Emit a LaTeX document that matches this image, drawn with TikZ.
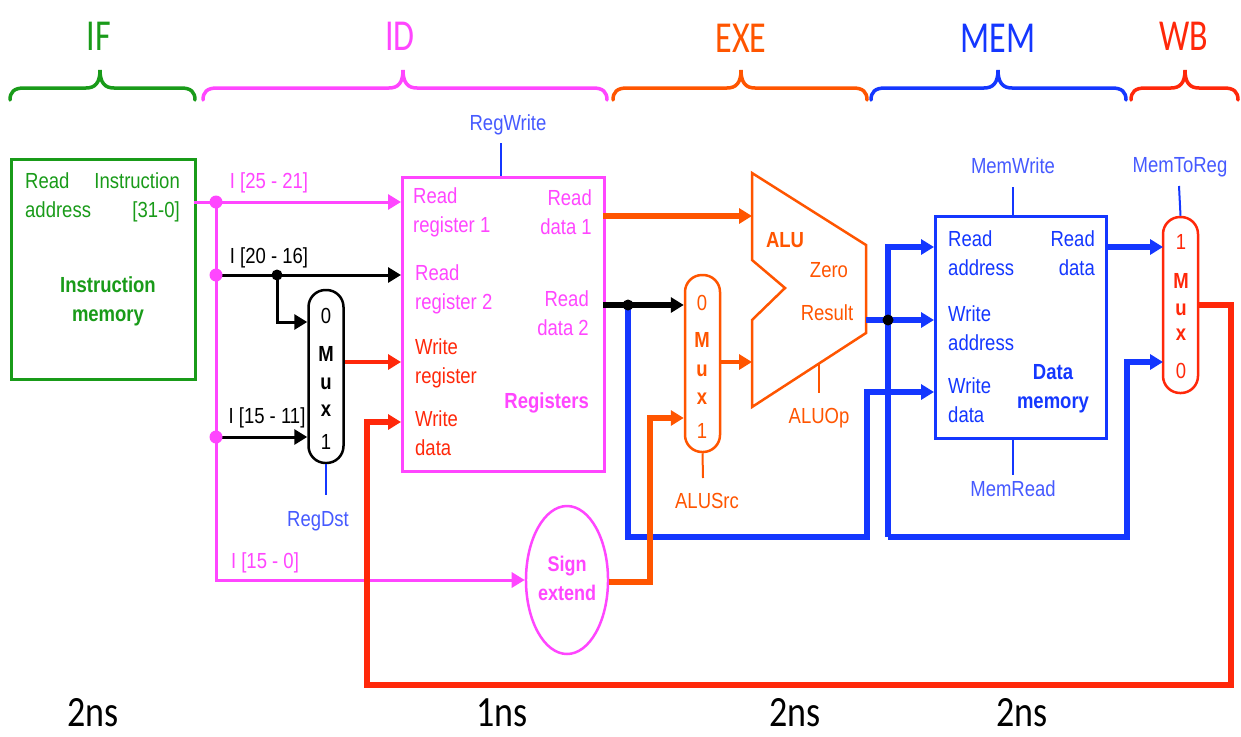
\documentclass[tikz,border=0pt]{standalone}
\usepackage{fontspec}
\setmainfont{Liberation Sans}
\newfontfamily\stagefont{Carlito}
\usepackage{graphicx}
\usetikzlibrary{arrows.meta,shapes.geometric}
\definecolor{cgreen}{RGB}{25,155,25}
\definecolor{cmag}{RGB}{255,70,255}
\definecolor{corange}{RGB}{255,85,0}
\definecolor{cred}{RGB}{255,40,10}
\definecolor{cblue}{RGB}{20,55,255}
\definecolor{clblue}{RGB}{70,90,255}
\newcommand\vsL[1]{\scalebox{1}[1.18]{\begin{tabular}{@{}l@{}}#1\end{tabular}}}
\newcommand\vsR[1]{\scalebox{1}[1.18]{\begin{tabular}{@{}r@{}}#1\end{tabular}}}
\newcommand\vsC[1]{\scalebox{1}[1.18]{\begin{tabular}{@{}c@{}}#1\end{tabular}}}
\newcommand\stagebrace[4]{\draw[bracestyle,#4] (#1,100) .. controls (#1,92) and ({#1+4},88) .. ({#1+14},88) -- ({#2-14},88) .. controls ({#2-5},88) and (#2,83) .. (#2,70) .. controls (#2,83) and ({#2+5},88) .. ({#2+14},88) -- ({#3-14},88) .. controls ({#3-4},88) and (#3,92) .. (#3,100);}
\begin{document}
\begin{tikzpicture}[x=1pt,y=-1pt,
  lbl/.style={inner sep=0pt, font=\fontsize{18.5}{25.4}\selectfont},
  bl/.style={inner sep=0pt, font=\fontsize{18.5}{25.4}\selectfont\bfseries},
  stg/.style={inner sep=0pt, font=\stagefont\fontsize{34}{34}\selectfont},
  tim/.style={inner sep=0pt, font=\stagefont\fontsize{36}{36}\selectfont, black},
  bracestyle/.style={line width=3.5pt, line cap=round},
  arr/.style={-{Triangle[length=13pt,width=15pt]}},
  thinln/.style={line width=3pt},
  midln/.style={line width=3.5pt},
  fatln/.style={line width=5.5pt},
  ctrl/.style={line width=2pt},
  boxst/.style={draw, line width=2.5pt, inner sep=0pt, anchor=north west},
  muxst/.style={draw, line width=2.5pt, inner sep=0pt, rounded corners=17pt, minimum width=35pt},
  dotst/.style={circle, fill, inner sep=0pt, minimum size=13pt}
]
\fill[white] (0,0) rectangle (1241,736);
\useasboundingbox (0,0) rectangle (1241,736);

% stage labels and braces
\node[stg, cgreen] (lif) at (99,36) {\scalebox{1}[1.3]{IF}};
\node[stg, cmag] (lid) at (400,36) {\scalebox{1}[1.3]{ID}};
\node[stg, corange] (lexe) at (741,38) {\scalebox{1}[1.3]{EXE}};
\node[stg, cblue] (lmem) at (998,38) {\scalebox{1}[1.3]{MEM}};
\node[stg, cred] (lwb) at (1184,36) {\scalebox{1}[1.3]{WB}};
\stagebrace{10}{100}{195}{cgreen}
\stagebrace{203}{403}{607}{cmag}
\stagebrace{613}{741}{867}{corange}
\stagebrace{871}{998}{1126}{cblue}
\stagebrace{1131}{1185}{1238}{cred}

% times
\node[tim] (t1) at (93,713) {\scalebox{1}[1.2]{2ns}};
\node[tim] (t2) at (502,713) {\scalebox{1}[1.2]{1ns}};
\node[tim] (t3) at (795,713) {\scalebox{1}[1.2]{2ns}};
\node[tim] (t4) at (1022,713) {\scalebox{1}[1.2]{2ns}};

% instruction memory
\node[boxst, draw=cgreen, minimum width=184pt, minimum height=220pt] (im) at (10,158) {};
\node[lbl, cgreen, anchor=west] (imra) at (25,183) {\vsL{Read}};
\node[lbl, cgreen, anchor=east] (imin) at (180,183) {\vsL{Instruction}};
\node[lbl, cgreen, anchor=west] (imad) at (25,212) {\vsL{address}};
\node[lbl, cgreen, anchor=east] (imbits) at (180,212) {\vsL{[31-0]}};
\node[bl, cgreen] (imname) at (108,301) {\vsC{Instruction\\memory}};

% registers
\node[boxst, draw=cmag, minimum width=202pt, minimum height=294pt] (regs) at (401,176) {};
\node[lbl, cmag, anchor=west] (rr1t) at (413,212) {\vsL{Read\\register 1}};
\node[lbl, cmag, anchor=west] (rr2t) at (415,289) {\vsL{Read\\register 2}};
\node[lbl, cred, anchor=west] (wrt) at (415,363) {\vsL{Write\\register}};
\node[lbl, cred, anchor=west] (wdt) at (415,435) {\vsL{Write\\data}};
\node[lbl, cmag, anchor=east] (rd1t) at (592,214) {\vsR{Read\\data 1}};
\node[lbl, cmag, anchor=east] (rd2t) at (589,315) {\vsR{Read\\data 2}};
\node[bl, cmag, anchor=east] (regname) at (589,402) {\vsR{Registers}};
\node[lbl, clblue] (regwrite) at (508,125) {\vsC{RegWrite}};
\draw[ctrl, cblue] (501,143) coordinate (rwtop) -- (501,176) coordinate (rwbot);

% mux 1 (RegDst)
\node[muxst, draw=black, minimum height=173pt] (mx1) at (326,376.5) {};
\node[lbl] (mx1a) at (326,318) {\vsC{0}};
\node[bl] (mx1b) at (326,355) {\vsC{M}};
\node[bl] (mx1c) at (326,383) {\vsC{u}};
\node[bl] (mx1d) at (326,410) {\vsC{x}};
\node[lbl] (mx1e) at (326,443) {\vsC{1}};
\node[lbl, clblue] (regdst) at (318,520) {\vsC{RegDst}};
\draw[ctrl, cblue] (mx1.south) -- (326,495) coordinate (rdend);

% sign extend
\node[ellipse, draw=cmag, line width=2.5pt, minimum width=74pt, minimum height=148pt, inner sep=0pt, font=\fontsize{18}{25}\selectfont\bfseries, text=cmag] (sx) at (567,580) {\vsC{Sign\\extend}};

% mux 2 (ALUSrc)
\node[muxst, draw=corange, minimum height=177pt] (mx2) at (702.5,363.5) {};
\node[lbl, corange] (mx2a) at (702,305) {\vsC{0}};
\node[bl, corange] (mx2b) at (702,342) {\vsC{M}};
\node[bl, corange] (mx2c) at (702,370) {\vsC{u}};
\node[bl, corange] (mx2d) at (702,398) {\vsC{x}};
\node[lbl, corange] (mx2e) at (702,432) {\vsC{1}};
\node[lbl, corange] (alusrc) at (707,502) {\vsC{ALUSrc}};
\draw[ctrl, corange] (mx2.south) -- (703,478) coordinate (asend);

% ALU
\draw[corange, line width=2.5pt] (752,173) coordinate (aluTL) -- (866,245) -- (866,333) -- (752,407) -- (752,320) -- (785,288) -- (752,260) -- cycle;
\node[bl, corange] (alut) at (785,242) {\vsC{ALU}};
\node[lbl, corange] (zerot) at (829,272) {\vsC{Zero}};
\node[lbl, corange] (rest) at (827,315) {\vsC{Result}};
\node[lbl, corange] (aluop) at (819,417) {\vsC{ALUOp}};
\draw[ctrl, corange] (819,364) coordinate (aotop) -- (819,393) coordinate (aobot);

% data memory
\node[boxst, draw=cblue, minimum width=171pt, minimum height=222pt] (dm) at (934,215) {};
\node[lbl, cblue, anchor=west] (dmra) at (948,255) {\vsL{Read\\address}};
\node[lbl, cblue, anchor=west] (dmwa) at (948,330) {\vsL{Write\\address}};
\node[lbl, cblue, anchor=west] (dmwd) at (948,402) {\vsL{Write\\data}};
\node[lbl, cblue, anchor=east] (dmrd) at (1095,255) {\vsR{Read\\data}};
\node[bl, cblue] (dmname) at (1053,388) {\vsC{Data\\memory}};
\node[lbl, clblue] (memwrite) at (1013,168) {\vsC{MemWrite}};
\draw[ctrl, cblue] (1013,187) coordinate (mwtop) -- (1013,215) coordinate (mwbot);
\node[lbl, clblue] (memread) at (1013,490) {\vsC{MemRead}};
\draw[ctrl, cblue] (1013,437) coordinate (mrtop) -- (1013,475) coordinate (mrbot);

% WB mux
\node[muxst, draw=cred, minimum height=176pt] (mx3) at (1180.5,305) {};
\node[lbl, cred] (mx3a) at (1181,244) {\vsC{1}};
\node[bl, cred] (mx3b) at (1181,283) {\vsC{M}};
\node[bl, cred] (mx3c) at (1181,310) {\vsC{u}};
\node[bl, cred] (mx3d) at (1181,335) {\vsC{x}};
\node[lbl, cred] (mx3e) at (1181,372) {\vsC{0}};
\node[lbl, clblue] (memtoreg) at (1180,167) {\vsC{MemToReg}};
\draw[ctrl, cblue] (1179,186) coordinate (mtrtop) -- (mx3.north);

% ports
\coordinate (imout) at (194,202);
\coordinate (j1) at (216,202);
\coordinate (j2) at (216,275);
\coordinate (j3) at (216,437);
\coordinate (j4) at (277,275);
\coordinate (rr1) at (401,202);
\coordinate (rr2) at (401,275);
\coordinate (wr) at (401,362);
\coordinate (wd) at (401,422);
\coordinate (rd1) at (603,216);
\coordinate (rd2) at (603,305);
\coordinate (j5) at (628,305);
\coordinate (aluA) at (752,216);
\coordinate (aluB) at (752,362);
\coordinate (aluR) at (866,320);
\coordinate (j6) at (888,320);
\coordinate (dmRA) at (934,247);
\coordinate (dmWA) at (934,320);
\coordinate (dmWD) at (934,392);
\coordinate (dmRD) at (1105,247);
\coordinate (m3in1) at (1163,247);
\coordinate (m3in0) at (1163,362);
\coordinate (m3out) at (1198,305);

% magenta instruction fields
\draw[thinln, cmag, arr] (imout) -- (rr1);
\draw[thinln, cmag, arr] (j1) -- (216,580) -- (sx.west);
\node[lbl, cmag] (f1) at (269,183) {\vsC{I [25 - 21]}};
\node[lbl, cmag] (f4) at (265,562) {\vsC{I [15 - 0]}};
\draw[line width=3pt, black, arr] (j2) -- (rr2);
\draw[line width=3pt, black, arr] (j4) -- (277,322) -- (mx1.west |- 0,322);
\draw[line width=3pt, black, arr] (j3) -- (mx1.west |- j3);
\node[lbl] (f2) at (269,258) {\vsC{I [20 - 16]}};
\node[lbl] (f3) at (267,417) {\vsC{I [15 - 11]}};
\node[dotst, cmag] (d1) at (j1) {};
\node[dotst, cmag] (d2) at (j2) {};
\node[dotst, cmag] (d3) at (j3) {};
\node[dotst, black, minimum size=11pt] (d4) at (j4) {};

% mux1 out
\draw[midln, cred, arr] (mx1.east |- wr) -- (wr);

% read data paths
\draw[fatln, corange, arr] (rd1) -- (aluA);
\draw[fatln, black, arr] (rd2) -- (mx2.west |- rd2);
\draw[fatln, cblue, arr] (j5) -- (628,537) -- (867,537) -- (867,392) -- (dmWD);
\node[dotst, black, minimum size=11pt] (d5) at (j5) {};
\draw[line width=4pt, corange, arr] (mx2.east |- aluB) -- (aluB);
\draw[fatln, corange, arr] (sx.east |- 0,582) -- (650,582) -- (650,418) -- (mx2.west |- 0,418);

% ALU result and memory
\draw[fatln, cblue, arr] (aluR) -- (dmWA);
\draw[fatln, cblue, arr] (888,537) -- (888,247) -- (dmRA);
\draw[fatln, cblue, arr] (888,537) -- (1127,537) -- (1127,362) -- (m3in0);
\draw[fatln, cblue, arr] (dmRD) -- (m3in1);
\node[dotst, black, minimum size=11pt] (d6) at (j6) {};

% write back
\draw[fatln, cred, arr] (m3out) -- (1231,305) -- (1231,685) -- (367,685) -- (367,422) -- (wd);
\end{tikzpicture}
\end{document}
